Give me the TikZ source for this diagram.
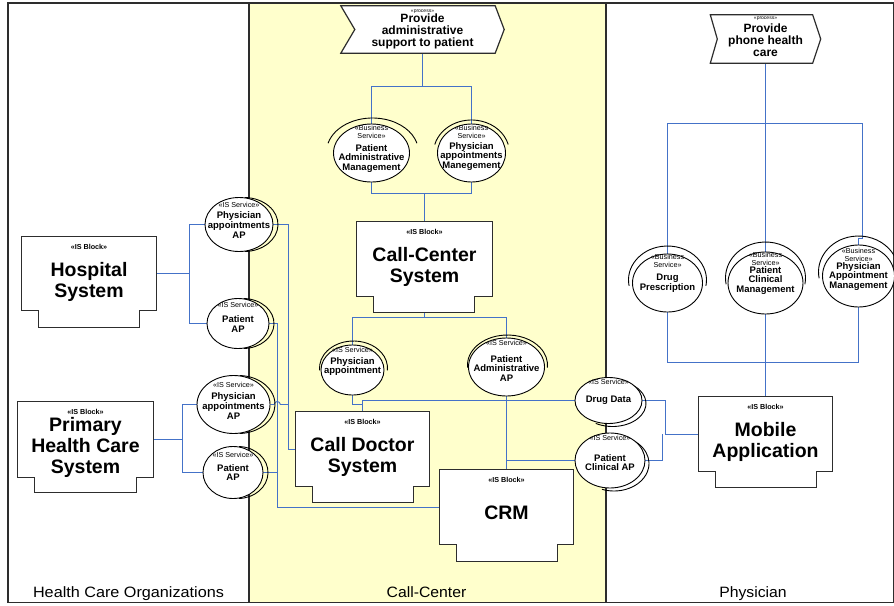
\documentclass[tikz,border=0pt]{standalone}
\usepackage{fontspec}
\setmainfont{Liberation Sans}
\usetikzlibrary{shapes.geometric,calc}

\pgfdeclarelayer{lanes}
\pgfdeclarelayer{wires}
\pgfdeclarelayer{shapes}
\pgfsetlayers{lanes,wires,shapes,main}

\definecolor{wire}{RGB}{68,114,200}
\definecolor{lanefill}{RGB}{255,255,204}
\definecolor{edgecol}{RGB}{45,45,45}

\newcommand\fsz[2]{\fontsize{#1}{#2}\selectfont}

\tikzset{
  conn/.style={draw=wire, line width=0.95pt},
  svc/.style={ellipse, draw=black, fill=white, line width=0.9pt, inner sep=0pt},
  svcarc/.style={draw=black, line width=0.9pt},
  stlbl/.style={anchor=center, font=\fsz{7.2}{8.2}, align=center, inner sep=0pt},
  nmlbl/.style={anchor=center, font=\bfseries\fsz{9.5}{9.8}, align=center, inner sep=0pt},
  blkbody/.style={rectangle, inner sep=0pt},
  blkline/.style={draw=edgecol, fill=white, line width=1.2pt, line join=miter},
  blkst/.style={anchor=center, font=\bfseries\fsz{7.2}{8}, inner sep=0pt},
  blkttl/.style={anchor=center, font=\bfseries\fsz{19.5}{21}, align=center, inner sep=0pt},
  procbody/.style={rectangle, inner sep=0pt},
  procst/.style={anchor=center, font=\fsz{5}{5}, inner sep=0pt},
  procttl/.style={anchor=center, font=\bfseries\fsz{12}{12}, align=center, inner sep=0pt},
  lanettl/.style={anchor=base, font=\fsz{15}{17}, inner sep=0pt},
  laneline/.style={draw=edgecol, line width=1.2pt},
}

% block outline: body rectangle with a narrower tab underneath
\newcommand\blocktab[4]{% node, left inset, right inset, tab depth
  \path[blkline] (#1.north west) -- (#1.north east) -- (#1.south east)
    -- ++(-#3,0) -- ++(0,#4) -- ($(#1.south west)+(#2,#4)$) -- ++(0,-#4)
    -- (#1.south west) -- cycle;
}
% process chevron: notched on the left, pointed on the right
\newcommand\procshape[3]{% node, notch depth, tip depth
  \path[blkline] (#1.north west) -- ($(#1.north east)+(-#3,0)$) -- (#1.east)
    -- ($(#1.south east)+(-#3,0)$) -- (#1.south west) -- ($(#1.west)+(#2,0)$) -- cycle;
}
% service arc drawn next to a service ellipse
\newcommand\svcarc[7]{% node, dx, dy, rx, ry, start, end
  \draw[svcarc] ($(#1.center)+(#2,#3)$) ++(#6:#4pt and #5pt)
    arc[start angle=#6, end angle=#7, x radius=#4pt, y radius=#5pt];
}

\begin{document}
\begin{tikzpicture}[x=1pt,y=-1pt]
\useasboundingbox (0,0) rectangle (894,605);

% ---------- swimlanes ----------
\begin{pgfonlayer}{lanes}
  \fill[lanefill] (249,3) rectangle (606,602.5);
  \draw[laneline] (8,3) rectangle (893.4,602.5);
  \draw[laneline] (249,3) -- (249,602.5);
  \draw[laneline] (606,3) -- (606,602.5);
\end{pgfonlayer}
\node[lanettl] (laneHCO) at (128.5,597) {\scalebox{1.08}[1]{Health Care Organizations}};
\node[lanettl] (laneCC) at (426.5,597) {\scalebox{1.05}[1]{Call-Center}};
\node[lanettl] (lanePH) at (753,597) {\scalebox{1.05}[1]{Physician}};

% ---------- processes ----------
\node[procbody, minimum width=163, minimum height=47,
  label={[procst, yshift=-6pt]north:«process»},
  label={[procttl, yshift=-26pt]north:{Provide\\administrative\\support to patient}}]
  (proc1) at (422.5,29.5) {};
\node[procbody, minimum width=110, minimum height=48,
  label={[procst, yshift=-4pt]north:«process»},
  label={[procttl, yshift=-25.5pt]north:{Provide\\phone health\\care}}]
  (proc2) at (765.5,39) {};

% ---------- IS blocks ----------
\node[blkbody, minimum width=134, minimum height=73,
  label={[blkst, yshift=-10pt]north:«IS Block»},
  label={[blkttl, yshift=-45pt]north:{Hospital\\System}}] (hosp) at (89,273.5) {};
\node[blkbody, minimum width=135, minimum height=75,
  label={[blkst, yshift=-10pt]north:«IS Block»},
  label={[blkttl, yshift=-46pt]north:{Primary\\Health Care\\System}}] (phc) at (85.5,439.5) {};
\node[blkbody, minimum width=135, minimum height=74,
  label={[blkst, yshift=-10pt]north:«IS Block»},
  label={[blkttl, yshift=-45pt]north:{Call-Center\\System}}] (ccs) at (424.5,259) {};
\node[blkbody, minimum width=134, minimum height=74,
  label={[blkst, yshift=-10pt]north:«IS Block»},
  label={[blkttl, yshift=-45pt]north:{Call Doctor\\System}}] (cds) at (362.5,449) {};
\node[blkbody, minimum width=134, minimum height=74,
  label={[blkst, yshift=-10pt]north:«IS Block»},
  label={[blkttl, yshift=-43pt]north:{CRM}}] (crm) at (506.5,507) {};
\node[blkbody, minimum width=134, minimum height=74,
  label={[blkst, yshift=-10pt]north:«IS Block»},
  label={[blkttl, yshift=-45.5pt]north:{Mobile\\Application}}] (mob) at (765.5,434) {};

% ---------- business services ----------
\node[svc, minimum width=76, minimum height=58,
  label={[stlbl, yshift=-8.5pt]north:{«Business\\Service»}},
  label={[nmlbl, yshift=-35pt]north:{Patient\\Administrative\\Management}}] (pam) at (371.5,153) {};
\node[svc, minimum width=68, minimum height=58,
  label={[stlbl, yshift=-8.5pt]north:{«Business\\Service»}},
  label={[nmlbl, yshift=-33pt]north:{Physician\\appointments\\Manegement}}] (pmm) at (471.5,153) {};
\node[svc, minimum width=70, minimum height=58,
  label={[stlbl, yshift=-7.5pt]north:{«Business\\Service»}},
  label={[nmlbl, yshift=-30pt]north:{Drug\\Prescription}}] (dp) at (667.5,283) {};
\node[svc, minimum width=75, minimum height=62,
  label={[stlbl, yshift=-7pt]north:{«Business\\Service»}},
  label={[nmlbl, yshift=-29pt]north:{Patient\\Clinical\\Management}}] (pcm) at (765.5,283) {};
\node[svc, minimum width=72, minimum height=62,
  label={[stlbl, yshift=-10pt]north:{«Business\\Service»}},
  label={[nmlbl, yshift=-32pt]north:{Physician\\Appointment\\Management}}] (pap) at (858.5,276) {};

% ---------- IS services ----------
\node[svc, minimum width=68, minimum height=54,
  label={[stlbl, yshift=-8pt]north:«IS Service»},
  label={[nmlbl, yshift=-28pt]north:{Physician\\appointments\\AP}}] (ppa1) at (239,224.5) {};
\node[svc, minimum width=62, minimum height=50,
  label={[stlbl, yshift=-7pt]north:«IS Service»},
  label={[nmlbl, yshift=-26pt]north:{Patient\\AP}}] (pta1) at (238,323.5) {};
\node[svc, minimum width=73, minimum height=58,
  label={[stlbl, yshift=-10pt]north:«IS Service»},
  label={[nmlbl, yshift=-31pt]north:{Physician\\appointments\\AP}}] (ppa2) at (233.5,404.5) {};
\node[svc, minimum width=60, minimum height=52,
  label={[stlbl, yshift=-9pt]north:«IS Service»},
  label={[nmlbl, yshift=-26.5pt]north:{Patient\\AP}}] (pta2) at (233,472.5) {};
\node[svc, minimum width=63, minimum height=50,
  label={[stlbl, yshift=-5pt]north:«IS Service»},
  label={[nmlbl, yshift=-22pt]north:{Physician\\appointment}}] (pa) at (352.5,370) {};
\node[svc, minimum width=76, minimum height=58,
  label={[stlbl, yshift=-5pt]north:«IS Service»},
  label={[nmlbl, yshift=-31pt]north:{Patient\\Administrative\\AP}}] (paap) at (506.5,367) {};
\node[svc, minimum width=67, minimum height=46,
  label={[stlbl, yshift=-5pt]north:«IS Service»},
  label={[nmlbl, yshift=-23pt]north:{Drug Data}}] (dd) at (608.5,400.5) {};
\node[svc, minimum width=70, minimum height=55,
  label={[stlbl, yshift=-5pt]north:«IS Service»},
  label={[nmlbl, yshift=-30pt]north:{Patient\\Clinical AP}}] (pca) at (610,460.5) {};

% ---------- outlines and service arcs ----------
\begin{pgfonlayer}{shapes}
  \procshape{proc1}{14}{9}
  \procshape{proc2}{7}{8}
  \blocktab{hosp}{17}{17}{17}
  \blocktab{phc}{17}{17}{15}
  \blocktab{ccs}{17}{18}{16}
  \blocktab{cds}{17}{16}{16}
  \blocktab{crm}{17}{16}{17}
  \blocktab{mob}{17}{16}{16}
  \svcarc{pam}{1}{-1}{46}{34}{165}{15}
  \svcarc{pmm}{0}{0}{38}{33}{165}{15}
  \svcarc{dp}{0}{-3}{39}{34}{190}{-10}
  \svcarc{pcm}{0}{-5}{40}{36}{190}{-10}
  \svcarc{pap}{0}{-4}{40}{36}{190}{-10}
  \svcarc{pa}{1}{-2}{34}{27}{185}{-5}
  \svcarc{paap}{1}{-2}{40}{30}{185}{-5}
  \svcarc{ppa1}{5}{0}{34}{27}{88}{-88}
  \svcarc{pta1}{5}{0}{31}{25}{88}{-88}
  \svcarc{ppa2}{5}{0}{36.5}{29}{88}{-88}
  \svcarc{pta2}{5}{0}{30}{26}{88}{-88}
  \svcarc{dd}{4}{3}{33.5}{23}{60}{-120}
  \svcarc{pca}{4}{3}{35}{27.5}{80}{-110}
\end{pgfonlayer}

% ---------- connectors ----------
\begin{pgfonlayer}{wires}
  % administrative support process
  \coordinate (j1) at (proc1.south |- 0,86.5);
  \draw[conn] (proc1.south) -- (j1);
  \draw[conn] (pam.north) |- (j1) -| (pmm.north);
  \coordinate (j4) at (ccs.north |- 0,193.5);
  \draw[conn] (pam.south) |- (j4) -| (pmm.south);
  \draw[conn] (j4) -- (ccs.north);
  \coordinate (j5) at (ccs.north |- 0,317.5);
  \draw[conn] (ccs.south) -- (j5);
  \draw[conn] (pa.north) |- (j5) -| (paap.north);
  % call-center services
  \coordinate (k1) at ($(cds.north)+(0,-7)$);
  \draw[conn] (pa.south) |- (k1);
  \draw[conn] (dd.west) -- (cds.north |- dd.west) -- (cds.north);
  \draw[conn] (paap.south) -- (crm.north);
  \draw[conn] (crm.north |- pca.west) -- (pca.west);
  % physician side
  \coordinate (m1) at ($(mob.west)+(-33,0)$);
  \coordinate (m2) at ($(mob.west)+(-36,0)$);
  \draw[conn] (dd.east) -| (m1) -- (mob.west);
  \draw[conn] (pca.east) -| (m2);
  \coordinate (j2) at (proc2.south |- 0,123.5);
  \draw[conn] (proc2.south) -- (pcm.north);
  \draw[conn] (dp.north) |- (j2) -| ($(pap.north)+(4,-6)$) -| (pap.north);
  \coordinate (j3) at (mob.north |- 0,362.5);
  \draw[conn] (dp.south) |- (j3) -| (pap.south);
  \draw[conn] (pcm.south) -- (mob.north);
  % health care organizations
  \coordinate (h1) at ($(hosp.east)+(33.5,0)$);
  \draw[conn] (hosp.east) -- (h1);
  \draw[conn] (ppa1.west) -| (h1) |- (pta1.west);
  \coordinate (h2) at ($(phc.east)+(29,0)$);
  \draw[conn] (phc.east) -- (h2);
  \draw[conn] (ppa2.west) -| (h2) |- (pta2.west);
  \coordinate (k3) at ($(cds.west)+(-7,0)$);
  \coordinate (k4) at ($(crm.west)+(-162,0)$);
  \draw[conn] (ppa1.east) -| (k3) -- (cds.west);
  \draw[conn] (pta1.east) -| (k4) -- (crm.west);
  \draw[conn] (ppa2.east) -- ($(k4 |- ppa2.east)+(-3,0)$)
    arc[start angle=180, end angle=0, radius=3pt] -- (k3 |- ppa2.east);
  \draw[conn] (pta2.east) -- (k4 |- pta2.east);
\end{pgfonlayer}
\end{tikzpicture}
\end{document}
